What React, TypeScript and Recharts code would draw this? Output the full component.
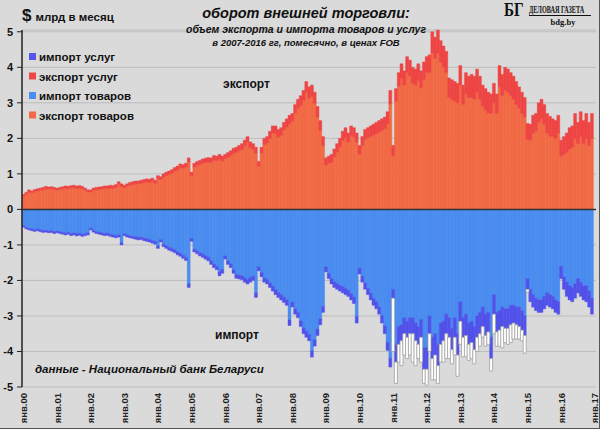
import React from 'react';
import { BarChart, Bar, XAxis, YAxis, CartesianGrid, ReferenceLine } from 'recharts';

// monthly, Jan 2000 .. Dec 2016, $ bn
const MONTHS = ['янв', 'фев', 'мар', 'апр', 'май', 'июн', 'июл', 'авг', 'сен', 'окт', 'ноя', 'дек'];
const YEARS = ['00', '01', '02', '03', '04', '05', '06', '07', '08', '09', '10', '11', '12', '13', '14', '15', '16'];
const Y_TICKS = [-5, -4, -3, -2, -1, 0, 1, 2, 3, 4, 5];

const exportGoods = [
  0.37, 0.43, 0.49, 0.47, 0.50, 0.52, 0.54, 0.55, 0.58, 0.57, 0.58, 0.56,
  0.54, 0.56, 0.58, 0.59, 0.58, 0.60, 0.61, 0.59, 0.60, 0.58, 0.54, 0.49,
  0.49, 0.54, 0.55, 0.56, 0.57, 0.59, 0.58, 0.60, 0.59, 0.62, 0.70, 0.64,
  0.61, 0.65, 0.68, 0.70, 0.72, 0.72, 0.73, 0.75, 0.77, 0.76, 0.79, 0.73,
  0.87, 0.84, 0.91, 0.96, 0.98, 1.02, 1.08, 1.11, 1.17, 1.15, 1.19, 1.33,
  0.95, 1.19, 1.24, 1.26, 1.30, 1.32, 1.33, 1.32, 1.39, 1.37, 1.41, 1.36,
  1.43, 1.47, 1.51, 1.58, 1.60, 1.65, 1.69, 1.79, 1.89, 1.74, 1.69, 1.58,
  1.21, 1.59, 1.82, 1.87, 2.00, 2.15, 2.13, 2.03, 2.08, 2.23, 2.32, 2.41,
  2.48, 2.70, 2.84, 2.92, 3.07, 3.30, 3.13, 3.18, 2.98, 2.60, 2.22, 1.79,
  1.25, 1.30, 1.33, 1.48, 1.61, 1.75, 1.94, 2.03, 1.89, 2.08, 2.04, 1.89,
  1.56, 1.79, 1.97, 2.02, 2.05, 2.10, 2.13, 2.18, 2.22, 2.27, 2.41, 2.97,
  1.50, 3.05, 3.47, 3.70, 3.50, 3.85, 3.75, 3.55, 3.50, 3.62, 3.42, 3.65,
  3.85, 3.85, 4.40, 4.25, 4.40, 4.15, 4.00, 3.85, 3.15, 3.10, 3.05, 3.00,
  3.50, 2.95, 3.25, 3.15, 3.15, 3.10, 3.30, 3.10, 2.90, 2.80, 2.70, 2.70,
  3.00, 2.70, 3.45, 3.20, 3.35, 3.30, 3.20, 3.10, 2.95, 2.85, 2.70, 2.60,
  1.97, 1.95, 2.15, 2.20, 2.45, 2.55, 2.40, 2.15, 2.07, 2.05, 2.00, 2.15,
  1.50, 1.55, 1.60, 1.70, 1.75, 2.00, 1.85, 2.05, 1.85, 2.00, 1.80, 2.00,
];

const exportServices = [
  0.05, 0.05, 0.06, 0.05, 0.06, 0.06, 0.06, 0.07, 0.07, 0.06, 0.06, 0.06,
  0.06, 0.06, 0.06, 0.07, 0.07, 0.07, 0.07, 0.07, 0.07, 0.07, 0.06, 0.06,
  0.06, 0.06, 0.07, 0.07, 0.07, 0.07, 0.08, 0.08, 0.08, 0.08, 0.08, 0.08,
  0.07, 0.07, 0.08, 0.08, 0.08, 0.08, 0.09, 0.09, 0.09, 0.09, 0.09, 0.09,
  0.08, 0.08, 0.09, 0.09, 0.10, 0.10, 0.10, 0.11, 0.11, 0.11, 0.11, 0.12,
  0.10, 0.11, 0.11, 0.12, 0.12, 0.12, 0.13, 0.13, 0.13, 0.13, 0.14, 0.14,
  0.12, 0.13, 0.14, 0.14, 0.15, 0.15, 0.16, 0.16, 0.16, 0.16, 0.16, 0.17,
  0.14, 0.16, 0.18, 0.18, 0.20, 0.20, 0.22, 0.22, 0.22, 0.22, 0.23, 0.24,
  0.22, 0.25, 0.26, 0.28, 0.28, 0.30, 0.32, 0.32, 0.32, 0.30, 0.28, 0.26,
  0.20, 0.20, 0.22, 0.22, 0.24, 0.25, 0.26, 0.27, 0.26, 0.27, 0.26, 0.26,
  0.24, 0.26, 0.28, 0.28, 0.30, 0.30, 0.32, 0.32, 0.33, 0.33, 0.34, 0.38,
  0.30, 0.35, 0.38, 0.40, 0.40, 0.45, 0.45, 0.45, 0.45, 0.48, 0.48, 0.50,
  0.45, 0.50, 0.60, 0.60, 0.65, 0.60, 0.60, 0.60, 0.55, 0.55, 0.55, 0.55,
  0.55, 0.55, 0.60, 0.60, 0.65, 0.65, 0.65, 0.65, 0.60, 0.60, 0.60, 0.55,
  0.55, 0.55, 0.60, 0.60, 0.65, 0.65, 0.65, 0.65, 0.65, 0.60, 0.60, 0.55,
  0.45, 0.45, 0.50, 0.50, 0.55, 0.55, 0.55, 0.55, 0.55, 0.50, 0.50, 0.50,
  0.45, 0.50, 0.55, 0.60, 0.60, 0.70, 0.60, 0.70, 0.65, 0.70, 0.65, 0.70,
];

// import magnitudes (drawn below zero)
const importGoods = [
  0.46, 0.51, 0.54, 0.55, 0.57, 0.55, 0.58, 0.60, 0.59, 0.61, 0.60, 0.63,
  0.61, 0.63, 0.65, 0.67, 0.65, 0.68, 0.66, 0.69, 0.67, 0.70, 0.68, 0.66,
  0.53, 0.59, 0.63, 0.64, 0.66, 0.68, 0.67, 0.70, 0.72, 0.74, 0.72, 0.93,
  0.68, 0.72, 0.74, 0.76, 0.77, 0.79, 0.78, 0.81, 0.83, 0.85, 0.88, 0.90,
  1.03, 0.85, 0.98, 1.03, 1.07, 1.10, 1.14, 1.20, 1.24, 1.29, 1.35, 2.10,
  0.82, 1.12, 1.17, 1.22, 1.26, 1.31, 1.35, 1.45, 1.54, 1.60, 1.76, 1.69,
  1.31, 1.45, 1.54, 1.70, 1.83, 1.85, 1.87, 1.93, 1.98, 1.93, 1.88, 2.35,
  1.62, 1.78, 1.93, 1.97, 2.07, 2.16, 2.26, 2.34, 2.40, 2.47, 2.55, 3.11,
  2.61, 2.80, 2.90, 3.14, 3.33, 3.43, 3.52, 3.98, 3.67, 3.37, 3.08, 2.73,
  1.62, 1.80, 1.95, 2.04, 2.09, 2.14, 2.18, 2.23, 2.28, 2.37, 2.47, 3.01,
  1.66, 1.88, 2.07, 2.22, 2.36, 2.51, 2.60, 2.75, 2.99, 3.28, 3.74, 4.19,
  2.25, 3.80, 3.30, 3.25, 3.05, 3.15, 3.05, 3.05, 3.20, 3.30, 3.10, 3.90,
  3.90, 3.00, 3.60, 3.50, 3.80, 3.20, 3.15, 2.95, 3.05, 3.35, 3.05, 3.50,
  2.60, 3.05, 2.95, 3.20, 3.15, 3.30, 3.00, 2.90, 2.75, 2.95, 2.90, 3.60,
  2.40, 2.90, 2.85, 2.75, 2.80, 2.80, 2.70, 2.70, 2.75, 2.75, 2.85, 3.00,
  1.95, 2.25, 2.40, 2.50, 2.55, 2.55, 2.45, 2.35, 2.40, 2.45, 2.55, 2.60,
  1.60, 1.90, 2.05, 2.15, 2.20, 2.10, 1.95, 2.05, 2.15, 2.15, 2.30, 2.50,
];

const importServices = [
  0.04, 0.04, 0.04, 0.05, 0.05, 0.05, 0.05, 0.05, 0.05, 0.05, 0.05, 0.05,
  0.05, 0.05, 0.05, 0.05, 0.05, 0.06, 0.06, 0.06, 0.06, 0.06, 0.06, 0.06,
  0.05, 0.05, 0.05, 0.06, 0.06, 0.06, 0.06, 0.06, 0.06, 0.06, 0.06, 0.07,
  0.06, 0.06, 0.06, 0.06, 0.07, 0.07, 0.07, 0.07, 0.07, 0.07, 0.07, 0.08,
  0.07, 0.07, 0.07, 0.07, 0.08, 0.08, 0.08, 0.08, 0.08, 0.09, 0.09, 0.10,
  0.08, 0.08, 0.08, 0.09, 0.09, 0.09, 0.10, 0.10, 0.10, 0.10, 0.11, 0.11,
  0.09, 0.10, 0.10, 0.10, 0.11, 0.11, 0.11, 0.12, 0.12, 0.12, 0.12, 0.13,
  0.11, 0.12, 0.12, 0.13, 0.13, 0.14, 0.14, 0.14, 0.15, 0.15, 0.15, 0.16,
  0.14, 0.15, 0.15, 0.16, 0.17, 0.17, 0.18, 0.18, 0.18, 0.18, 0.17, 0.17,
  0.14, 0.15, 0.15, 0.16, 0.16, 0.16, 0.17, 0.17, 0.17, 0.18, 0.18, 0.19,
  0.16, 0.17, 0.18, 0.18, 0.19, 0.19, 0.20, 0.20, 0.21, 0.22, 0.23, 0.25,
  0.25, 0.50, 0.50, 0.45, 0.45, 0.45, 0.45, 0.45, 0.50, 0.50, 0.50, 0.60,
  0.60, 0.50, 0.60, 0.60, 0.60, 0.60, 0.55, 0.55, 0.55, 0.60, 0.55, 0.60,
  0.55, 0.55, 0.60, 0.60, 0.60, 0.65, 0.60, 0.60, 0.55, 0.60, 0.55, 0.60,
  0.55, 0.55, 0.55, 0.55, 0.55, 0.55, 0.55, 0.50, 0.50, 0.55, 0.55, 0.55,
  0.30, 0.35, 0.35, 0.35, 0.35, 0.35, 0.35, 0.35, 0.35, 0.35, 0.35, 0.35,
  0.35, 0.35, 0.40, 0.40, 0.40, 0.40, 0.40, 0.40, 0.40, 0.45, 0.45, 0.45,
];

// white outlined part, Jan 2011 .. Jan 2015
const OTHER_START = 132;
const importOther = [
  1.50, 0.60, 0.50, 0.70, 0.60, 0.60, 0.60, 0.80, 0.70, 0.40, 0.70, 0.40,
  0.45, 0.50, 0.60, 0.70, 0.50, 0.50, 0.60, 0.70, 0.60, 0.40, 0.50, 0.60,
  0.65, 0.55, 0.60, 0.45, 0.45, 0.40, 0.40, 0.35, 0.30, 0.30, 0.35, 0.35,
  0.55, 0.40, 0.45, 0.60, 0.40, 0.45, 0.50, 0.45, 0.40, 0.35, 0.30, 0.50,
  0.08,
];

const labels = [...YEARS.flatMap((y) => MONTHS.map((m) => `${m}.${y}`)), 'янв.17'];

const data = labels.map((label, i) => {
  const k = i - OTHER_START;
  return {
    label,
    exGoods: exportGoods[i] ?? null,
    exServ: exportServices[i] ?? null,
    imGoods: importGoods[i] != null ? -importGoods[i] : null,
    imServ: importServices[i] != null ? -importServices[i] : null,
    imOther: k >= 0 && k < importOther.length ? -importOther[k] : null,
  };
});

const FONT = '"Liberation Sans", Arial, sans-serif';
const SERIF = '"Liberation Serif", "DejaVu Serif", serif';

const legend = [
  { name: 'импорт услуг', color: '#5656EE' },
  { name: 'экспорт услуг', color: '#EE4545' },
  { name: 'импорт товаров', color: '#4A8CF0' },
  { name: 'экспорт товаров', color: '#F26A45' },
];

// only January gets a label, read bottom-to-top
const MonthTick = (props: any) => {
  const { x, payload } = props;
  if (!String(payload.value).startsWith('янв')) return <g />;
  const tx = x + 3.5;
  const ty = 393;
  return (
    <text x={tx} y={ty} transform={`rotate(-90 ${tx} ${ty})`} textAnchor="end"
      fontSize={9.5} fontWeight={700} fontFamily={FONT} fill="#222">
      {payload.value}
    </text>
  );
};

export default function App() {
  return (
    <div style={{ position: 'absolute', left: 0, top: 0, width: 600, height: 429, background: '#DADADA' }}>
      <BarChart width={600} height={429} data={data} stackOffset="sign"
        barCategoryGap={0} barGap={0}
        margin={{ top: 30, right: 4, left: 0, bottom: 0 }}>
        <CartesianGrid vertical={false} stroke="#BDBDBD" />
        <XAxis dataKey="label" interval={0} height={42} axisLine={false} tickLine={false} tick={<MonthTick />} />
        <YAxis domain={[-5, 5]} ticks={Y_TICKS} width={22} interval={0}
          axisLine={{ stroke: '#222', strokeWidth: 1.5 }} tickLine={{ stroke: '#222' }}
          tickSize={5} tickMargin={4}
          tick={{ fill: '#111', fontSize: 11, fontWeight: 700, fontFamily: FONT }} />
        <Bar dataKey="exGoods" stackId="a" fill="#F26A45" stroke="#F26A45" strokeWidth={0.4} isAnimationActive={false} />
        <Bar dataKey="exServ" stackId="a" fill="#EE4545" stroke="#EE4545" strokeWidth={0.4} isAnimationActive={false} />
        <Bar dataKey="imGoods" stackId="a" fill="#4A8CF0" stroke="#4A8CF0" strokeWidth={0.4} isAnimationActive={false} />
        <Bar dataKey="imServ" stackId="a" fill="#5252EA" stroke="#5252EA" strokeWidth={0.4} isAnimationActive={false} />
        <Bar dataKey="imOther" stackId="a" fill="#FFFFFF" stroke="#A0A0A0" strokeWidth={0.8} isAnimationActive={false} />
        <ReferenceLine y={0} stroke="#333" strokeWidth={1.5} />
      </BarChart>

      <svg width={600} height={429} style={{ position: 'absolute', left: 0, top: 0, pointerEvents: 'none' }}>
        <text x={22} y={21} fontFamily={FONT} fontWeight={700} fill="#111">
          <tspan fontSize={17}>$</tspan>
          <tspan fontSize={11.5} dx={4}>млрд в месяц</tspan>
        </text>

        <text x={306} y={18} textAnchor="middle" fontFamily={FONT} fontWeight={700} fontStyle="italic" fontSize={14.5} fill="#111">
          оборот внешней торговли:
        </text>
        <text x={306} y={33} textAnchor="middle" fontFamily={FONT} fontWeight={700} fontStyle="italic" fontSize={10.5} fill="#111">
          объем экспорта и импорта товаров и услуг
        </text>
        <text x={306} y={46} textAnchor="middle" fontFamily={FONT} fontWeight={700} fontStyle="italic" fontSize={9.5} fill="#111">
          в 2007-2016 гг, помесячно, в ценах FOB
        </text>

        <text transform="translate(504,16) scale(0.8,1)" fontFamily={SERIF} fontWeight={700} fontSize={19} fill="#111">БГ</text>
        <text transform="translate(529,13) scale(0.62,1)" fontFamily={SERIF} fontWeight={700} fontSize={10} fill="#111">ДЕЛОВАЯ ГАЗЕТА</text>
        <line x1={529} y1={15.5} x2={591} y2={15.5} stroke="#111" strokeWidth={1} />
        <text x={563} y={25} textAnchor="middle" fontFamily={SERIF} fontWeight={700} fontSize={8.5} fill="#111">bdg.by</text>

        {legend.map((d, i) => (
          <g key={d.name}>
            <rect x={29} y={53 + i * 19.5} width={7} height={7} fill={d.color} />
            <text x={39} y={61 + i * 19.5} fontFamily={FONT} fontWeight={700} fontSize={11.5} fill="#111">{d.name}</text>
          </g>
        ))}

        <text x={223} y={88} fontFamily={FONT} fontWeight={700} fontSize={12} fill="#111">экспорт</text>
        <text x={215} y={339} fontFamily={FONT} fontWeight={700} fontSize={12} fill="#111">импорт</text>
        <text x={35} y={373} fontFamily={FONT} fontWeight={700} fontStyle="italic" fontSize={11.5} fill="#111">
          данные - Национальный банк Беларуси
        </text>

        <line x1={0} y1={428.5} x2={600} y2={428.5} stroke="#555" strokeWidth={1} />
        <line x1={599.5} y1={0} x2={599.5} y2={429} stroke="#555" strokeWidth={1} />
      </svg>
    </div>
  );
}
